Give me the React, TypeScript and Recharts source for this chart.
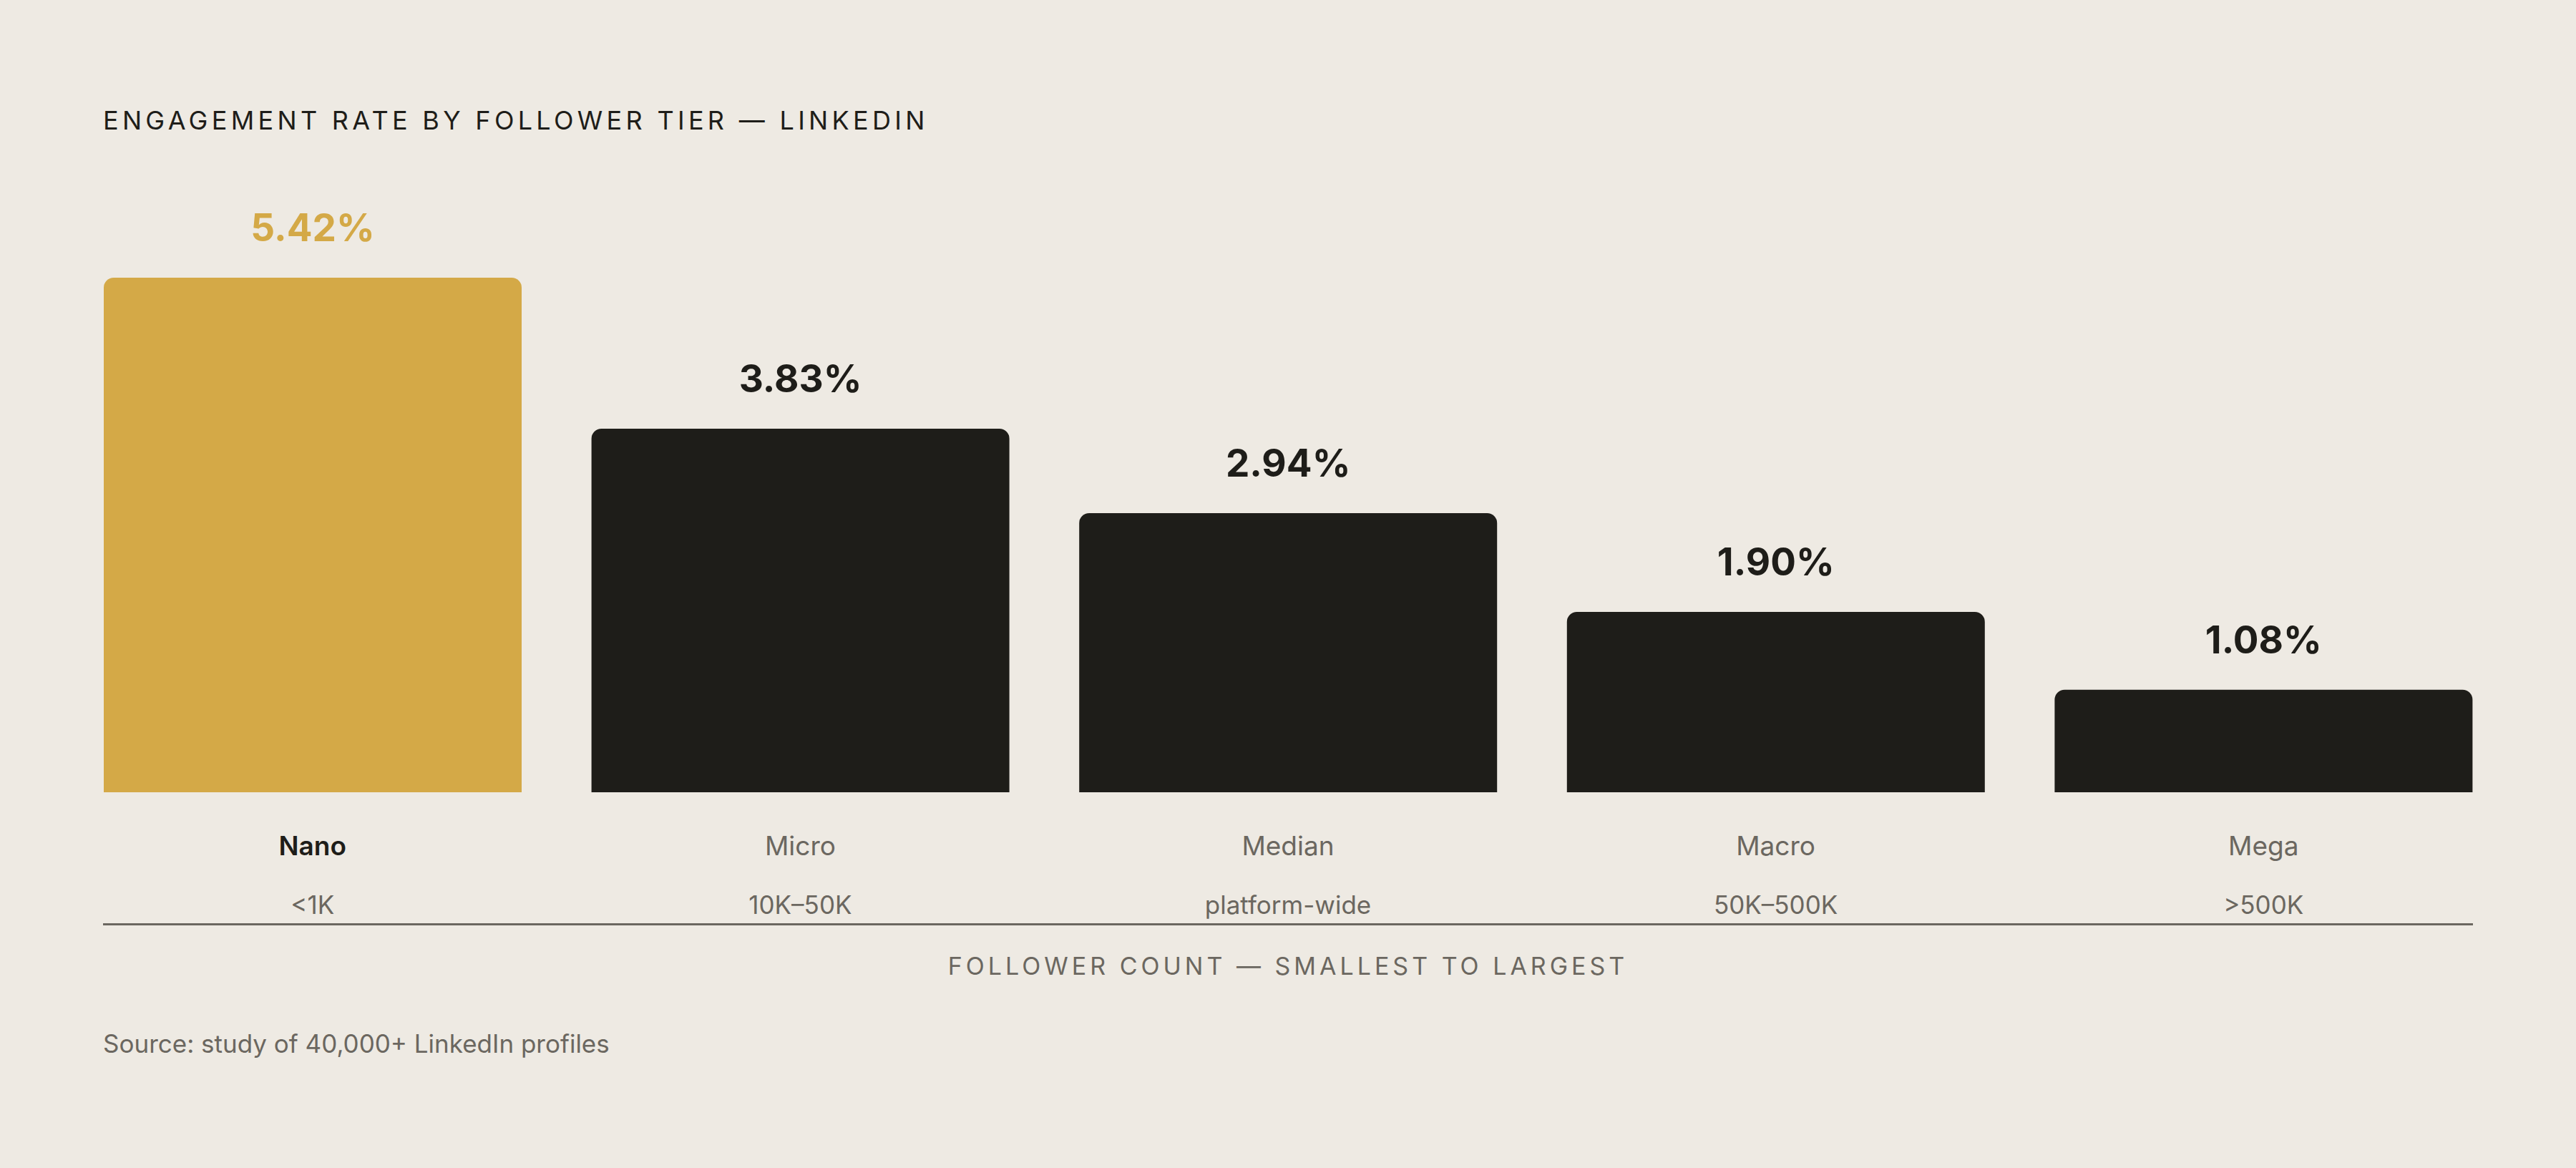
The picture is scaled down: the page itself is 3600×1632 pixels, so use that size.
import React from 'react';
import { BarChart, Bar, XAxis, YAxis, Cell, LabelList } from 'recharts';

const tiers = ['Nano', 'Micro', 'Median', 'Macro', 'Mega'];
const ranges = ['<1K', '10K–50K', 'platform-wide', '50K–500K', '>500K'];
const rates = [5.42, 3.83, 2.94, 1.9, 1.08];

const BG = '#EEEAE3';
const GOLD = '#D4A947';
const INK = '#1E1D19';
const MUTED = '#6B6760';
const FONT = 'Inter, "DejaVu Sans", sans-serif';

const data = tiers.map((tier, i) => ({ tier, range: ranges[i], rate: rates[i] }));

const TierTick = (props: any) => {
  const { x, y, payload, index } = props;
  const first = index === 0;
  return (
    <g>
      <text
        x={x}
        y={y + 88}
        textAnchor="middle"
        fontFamily={FONT}
        fontSize={37}
        fontWeight={first ? 600 : 400}
        fill={first ? INK : MUTED}
      >
        {payload.value}
      </text>
      <text x={x} y={y + 170} textAnchor="middle" fontFamily={FONT} fontSize={35} fill={MUTED}>
        {ranges[index]}
      </text>
    </g>
  );
};

const ValueLabel = (props: any) => {
  const { x, y, width, value, index } = props;
  return (
    <text
      x={x + width / 2}
      y={y - 51}
      textAnchor="middle"
      fontFamily={FONT}
      fontSize={53}
      fontWeight={650}
      fill={index === 0 ? GOLD : INK}
    >
      {Number(value).toFixed(2)}%
    </text>
  );
};

export default function App() {
  return (
    <div style={{ position: 'relative', width: 3600, height: 1632, background: BG, overflow: 'hidden', fontFamily: FONT }}>
      <style>{'body{margin:0}'}</style>
      <div
        style={{
          position: 'absolute',
          left: 144,
          top: 150,
          fontSize: 36,
          lineHeight: 1,
          letterSpacing: 5.3,
          color: INK,
          whiteSpace: 'nowrap',
        }}
      >
        ENGAGEMENT RATE BY FOLLOWER TIER — LINKEDIN
      </div>

      <div style={{ position: 'absolute', left: 0, top: 0 }}>
        <BarChart
          width={3600}
          height={1307}
          data={data}
          margin={{ top: 388, right: 96, bottom: 0, left: 96 }}
          barCategoryGap={49}
        >
          <XAxis
            dataKey="tier"
            axisLine={false}
            tickLine={false}
            tickSize={0}
            tickMargin={0}
            height={200}
            interval={0}
            tick={<TierTick />}
          />
          <YAxis hide domain={[0, 5.42]} />
          <Bar dataKey="rate" radius={[14, 14, 0, 0]} isAnimationActive={false}>
            {data.map((d, i) => (
              <Cell key={d.tier} fill={i === 0 ? GOLD : INK} />
            ))}
            <LabelList dataKey="rate" content={<ValueLabel />} />
          </Bar>
        </BarChart>
      </div>

      <div style={{ position: 'absolute', left: 144, top: 1290, width: 3312, height: 2.5, background: MUTED }} />

      <div
        style={{
          position: 'absolute',
          left: 0,
          width: 3600,
          top: 1333,
          textAlign: 'center',
          fontSize: 34,
          lineHeight: 1,
          letterSpacing: 5,
          color: MUTED,
          whiteSpace: 'nowrap',
        }}
      >
        FOLLOWER COUNT — SMALLEST TO LARGEST
      </div>

      <div
        style={{
          position: 'absolute',
          left: 144,
          top: 1441,
          fontSize: 35,
          lineHeight: 1,
          color: MUTED,
          whiteSpace: 'nowrap',
        }}
      >
        Source: study of 40,000+ LinkedIn profiles
      </div>
    </div>
  );
}
